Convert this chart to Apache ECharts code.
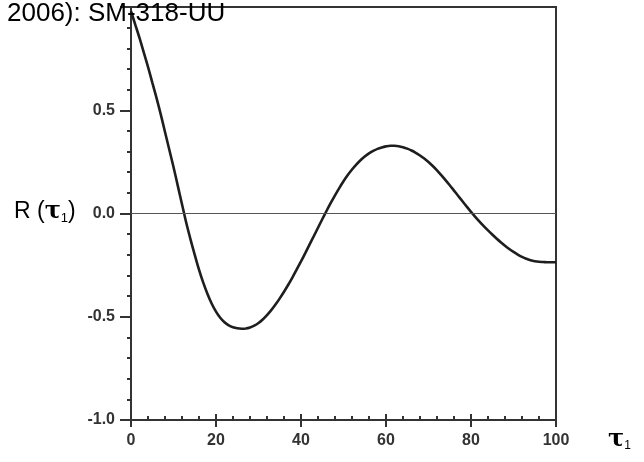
<!DOCTYPE html>
<html>
<head>
<meta charset="utf-8">
<script src="https://cdn.jsdelivr.net/npm/echarts@6/dist/echarts.min.js"></script>
<style>html,body{margin:0;padding:0;background:#fff;}#c{width:644px;height:462px;}</style>
</head>
<body>
<div id="c"></div>
<script>
const tau = [];
for (let i = 0; i <= 100; i++) tau.push(i);
const R = [
 0.98, 0.915, 0.85, 0.78, 0.71, 0.635, 0.56, 0.48, 0.395, 0.31,
 0.225, 0.135, 0.045, -0.045, -0.125, -0.20, -0.272, -0.335, -0.39, -0.437,
 -0.475, -0.505, -0.527, -0.542, -0.551, -0.556, -0.558, -0.557, -0.552, -0.543,
 -0.53, -0.513, -0.492, -0.468, -0.441, -0.411, -0.379, -0.345, -0.309, -0.271,
 -0.232, -0.192, -0.151, -0.11, -0.069, -0.028, 0.012, 0.051, 0.088, 0.123,
 0.156, 0.186, 0.213, 0.237, 0.258, 0.276, 0.291, 0.303, 0.313, 0.32,
 0.325, 0.328, 0.328, 0.326, 0.321, 0.314, 0.305, 0.294, 0.281, 0.266,
 0.249, 0.23, 0.209, 0.186, 0.162, 0.137, 0.111, 0.085, 0.059, 0.033,
 0.008, -0.016, -0.039, -0.061, -0.082, -0.102, -0.121, -0.139, -0.156, -0.172,
 -0.186, -0.199, -0.21, -0.219, -0.226, -0.231, -0.234, -0.235, -0.236, -0.236,
 -0.236
];
const xTicks = [0, 20, 40, 60, 80, 100];
const yTicks = [-1.0, -0.5, 0.0, 0.5, 1.0];
const titleText = '2006): SM-318-UU';

const chart = echarts.init(document.getElementById('c'));
const axisColor = '#333';
chart.setOption({
  animation: false,
  backgroundColor: '#fff',
  grid: { left: 131, right: 88, top: 7, bottom: 42, show: true, borderColor: '#333', borderWidth: 2, backgroundColor: 'transparent' },
  graphic: [
    { type: 'text', left: 7, top: 1, z: 100, style: { text: titleText, font: '26px "Liberation Sans", Arial, sans-serif', fill: '#000' } },
    { type: 'text', left: 14, top: 200, style: {
        text: '{a|R (}{t|τ}{s|1}{a|)}',
        rich: {
          a: { fontFamily: '"Liberation Sans", Arial, sans-serif', fontSize: 23, color: '#222' },
          t: { fontFamily: '"DejaVu Serif", serif', fontSize: 24, color: '#222', fontWeight: 'bold' },
          s: { fontFamily: '"Liberation Sans", Arial, sans-serif', fontSize: 13, color: '#222', padding: [12, 0, 0, 0] }
        } } },
    { type: 'text', left: 608, top: 428, style: {
        text: '{t|τ}{s|1}',
        rich: {
          t: { fontFamily: '"DejaVu Serif", serif', fontSize: 24, color: '#222', fontWeight: 'bold' },
          s: { fontFamily: '"Liberation Sans", Arial, sans-serif', fontSize: 12, color: '#222', padding: [12, 0, 0, 0] }
        } } }
  ],
  xAxis: [{
    type: 'value', min: xTicks[0], max: xTicks[xTicks.length - 1], interval: 20, position: 'bottom',
    axisLine: { show: true, onZero: false, lineStyle: { color: axisColor, width: 2 } },
    axisTick: { show: true, length: 7, lineStyle: { color: axisColor, width: 2 } },
    minorTick: { show: false },
    splitLine: { show: false },
    axisLabel: { show: true, margin: 13, fontSize: 16, color: '#333', fontFamily: '"Liberation Sans", Arial, sans-serif', fontWeight: 'bold' }
  }, {
    type: 'value', min: xTicks[0], max: xTicks[xTicks.length - 1], interval: 20, position: 'bottom',
    axisLine: { show: false, onZero: false },
    axisTick: { show: true, inside: true, length: 6, lineStyle: { color: axisColor, width: 2 } },
    minorTick: { show: true, splitNumber: 5, length: 4, lineStyle: { color: axisColor, width: 2 } },
    splitLine: { show: false },
    axisLabel: { show: false }
  }],
  yAxis: {
    type: 'value', min: yTicks[0], max: yTicks[yTicks.length - 1], interval: 0.5,
    axisLine: { show: true, onZero: false, lineStyle: { color: axisColor, width: 2 } },
    axisTick: { show: true, length: 11, lineStyle: { color: axisColor, width: 2 } },
    minorTick: { show: true, splitNumber: 5, length: 4, lineStyle: { color: axisColor, width: 2 } },
    splitLine: { show: false },
    axisLabel: { show: true, margin: 16, fontSize: 16, color: '#333', fontFamily: '"Liberation Sans", Arial, sans-serif', fontWeight: 'bold',
      formatter: v => (Math.abs(v - 1) < 1e-9 ? '' : v.toFixed(1)) }
  },
  series: [{
    type: 'line',
    data: tau.map((x, i) => [x, R[i]]),
    smooth: 0.3,
    symbol: 'none',
    clip: false,
    lineStyle: { color: '#1e1e1e', width: 2.6 },
    markLine: {
      silent: true, symbol: 'none', label: { show: false },
      lineStyle: { color: '#555', width: 1.2, type: 'solid' },
      data: [{ yAxis: 0 }]
    }
  }]
});
</script>
</body>
</html>
